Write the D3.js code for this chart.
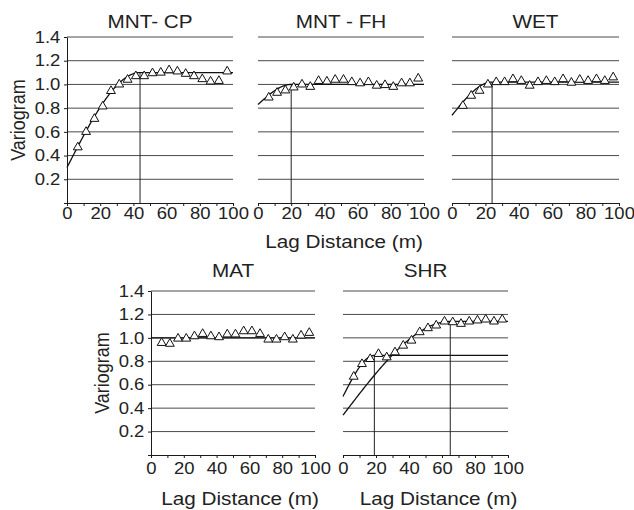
<!DOCTYPE html>
<html lang="en">
	<head>
		<meta charset="utf-8">
		<title>Variograms</title>
		<script src="https://d3js.org/d3.v7.min.js"></script>
		<style type="text/css">
body { margin: 0; background: #fff; }
text { font-family: "Liberation Sans", Arial, Helvetica, sans-serif; fill: #222; }
.tick line { stroke: #1a1a1a; }
.domain { stroke: #1a1a1a; }
		</style>
	</head>
	<body>
		<script type="text/javascript">

			// lag distances (m) of the empirical points
			var lags = [6.5, 11.5, 16.5, 21.5, 26.5, 31.5, 36.5, 41.5, 46.5, 51.5,
			            56.5, 61.5, 66.5, 71.5, 76.5, 81.5, 86.5, 91.5, 96.5];

			var cpVals  = [0.47, 0.60, 0.71, 0.815, 0.945, 1.00, 1.04, 1.07, 1.07, 1.095,
			               1.10, 1.12, 1.11, 1.09, 1.07, 1.045, 1.025, 1.03, 1.11];
			var fhVals  = [0.89, 0.93, 0.95, 0.975, 1.00, 0.98, 1.03, 1.025, 1.04, 1.04,
			               1.02, 1.01, 1.02, 0.99, 0.995, 0.98, 1.01, 1.01, 1.05];
			var wetVals = [0.82, 0.905, 0.947, 1.00, 1.02, 1.02, 1.045, 1.03, 0.99, 1.02,
			               1.03, 1.02, 1.045, 1.015, 1.04, 1.03, 1.045, 1.03, 1.06];
			var matVals = [0.957, 0.95, 0.994, 0.994, 1.014, 1.034, 1.014, 1.006, 1.03, 1.03,
			               1.057, 1.057, 1.034, 0.986, 0.986, 1.006, 0.986, 1.02, 1.043];
			var shrVals = [0.669, 0.777, 0.82, 0.863, 0.834, 0.877, 0.934, 0.977, 1.049, 1.083,
			               1.106, 1.14, 1.134, 1.12, 1.14, 1.149, 1.157, 1.14, 1.157];

			// fitted spherical models: [nugget, sill, range]
			var cpModels  = [[0.30, 1.10, 44]];
			var fhModels  = [[0.83, 1.00, 20]];
			var wetModels = [[0.74, 1.02, 24]];
			var matModels = [[1.00, 1.00, 0]];
			var shrModels = [[0.50, 0.85, 19], [0.34, 1.14, 65]];

			// axis ticks
			var xTicks = [0, 10, 20, 30, 40, 50, 60, 70, 80, 90, 100];
			var xLabels = [0, 20, 40, 60, 80, 100];
			var yTicks = [0, 0.2, 0.4, 0.6, 0.8, 1.0, 1.2, 1.4];
			var gridVals = [0.2, 0.4, 0.6, 0.8, 1.0, 1.2, 1.4];

			var w = 634;
			var h = 510;

			// the source figure is a little stretched sideways, so is its text
			var stretch = 1.12;

			// layout of the two rows
			var rows = [
				{ top: 37, bottom: 203, titleY: 28, tickPad: 1, lagY: 248 },
				{ top: 291, bottom: 455, titleY: 277, tickPad: 4, lagY: 505 }
			];

			var panels = [
				{ name: "MNT- CP", vals: cpVals,  models: cpModels,  row: 0, left: 67,  right: 233, yAxis: true,  lag: null },
				{ name: "MNT - FH", vals: fhVals, models: fhModels,  row: 0, left: 258, right: 424, yAxis: false, lag: 3 },
				{ name: "WET",     vals: wetVals, models: wetModels, row: 0, left: 452, right: 619, yAxis: false, lag: null },
				{ name: "MAT",     vals: matVals, models: matModels, row: 1, left: 151, right: 315, yAxis: true,  lag: 7 },
				{ name: "SHR",     vals: shrVals, models: shrModels, row: 1, left: 343, right: 508, yAxis: false, lag: 13 }
			];

			// spherical variogram model
			function spherical(m, d) {
				var c0 = m[0], s = m[1], a = m[2];
				if (a <= 0 || d >= a) return s;
				var r = d / a;
				return c0 + (s - c0) * (1.5 * r - 0.5 * r * r * r);
			}

			var svg = d3.select("body")
						.append("svg")
						.attr("width", w)
						.attr("height", h);

			svg.append("rect")
				.attr("width", w)
				.attr("height", h)
				.attr("fill", "#fff");

			var tri = d3.symbol().type(d3.symbolTriangle).size(34);

			panels.forEach(function(p) {

				var row = rows[p.row];

				var x = d3.scaleLinear()
					.domain([0, 100])
					.range([p.left, p.right]);

				var y = d3.scaleLinear()
					.domain([0, 1.4])
					.range([row.bottom, row.top]);

				var g = svg.append("g");

				// horizontal grid lines
				g.selectAll(".grid")
					.data(gridVals)
					.enter()
					.append("line")
					.attr("class", "grid")
					.attr("x1", x(0))
					.attr("x2", x(100))
					.attr("y1", function(d) { return y(d); })
					.attr("y2", function(d) { return y(d); })
					.attr("stroke", "#4a4a4a")
					.attr("stroke-width", 1);

				// x axis
				var xAxis = d3.axisBottom(x)
					.tickValues(xTicks)
					.tickSize(3)
					.tickSizeOuter(0)
					.tickPadding(row.tickPad)
					.tickFormat(function(d) { return xLabels.indexOf(d) >= 0 ? d : ""; });

				g.append("g")
					.attr("transform", "translate(0," + y(0) + ")")
					.call(xAxis)
					.call(function(a) {
						a.selectAll("text")
							.attr("font-size", "16.5px")
							.attr("transform", "scale(" + stretch + ",1)");
					});

				// y axis on the left panels only
				if (p.yAxis) {
					var yAxis = d3.axisLeft(y)
						.tickValues(yTicks)
						.tickSize(3)
						.tickSizeOuter(0)
						.tickFormat(function(d) { return d === 0 ? "" : d3.format(".1f")(d); });

					g.append("g")
						.attr("transform", "translate(" + x(0) + ",0)")
						.call(yAxis)
						.call(function(a) {
							a.selectAll("text")
								.attr("font-size", "16.5px")
								.attr("transform", "scale(" + stretch + ",1)");
						});

					g.append("text")
						.attr("transform", "translate(" + (x(0) - 49) + "," + ((row.top + row.bottom) / 2) + ") rotate(-90) scale(1," + stretch + ")")
						.attr("text-anchor", "middle")
						.attr("dy", "0.35em")
						.attr("font-size", "18px")
						.text("Variogram");
				}

				// range markers
				p.models.forEach(function(m) {
					if (m[2] <= 0) return;
					g.append("line")
						.attr("x1", x(m[2]))
						.attr("x2", x(m[2]))
						.attr("y1", y(0))
						.attr("y2", y(m[1]))
						.attr("stroke", "#222")
						.attr("stroke-width", 1);
				});

				// model curves
				var line = d3.line()
					.x(function(d) { return x(d[0]); })
					.y(function(d) { return y(d[1]); });

				p.models.forEach(function(m) {
					var pts = d3.range(0, 100.01, 0.5).map(function(d) { return [d, spherical(m, d)]; });
					g.append("path")
						.attr("d", line(pts))
						.attr("fill", "none")
						.attr("stroke", "#111")
						.attr("stroke-width", 1.3);
				});

				// empirical points
				g.selectAll(".pt")
					.data(p.vals)
					.enter()
					.append("path")
					.attr("class", "pt")
					.attr("d", tri)
					.attr("transform", function(d, i) { return "translate(" + x(lags[i]) + "," + y(d) + ")"; })
					.attr("fill", "#fff")
					.attr("stroke", "#111")
					.attr("stroke-width", 1);

				// panel title
				g.append("text")
					.attr("transform", "translate(" + ((p.left + p.right) / 2) + "," + row.titleY + ") scale(" + stretch + ",1)")
					.attr("text-anchor", "middle")
					.attr("font-size", "18.5px")
					.text(p.name);

				// x axis title
				if (p.lag !== null) {
					g.append("text")
						.attr("transform", "translate(" + ((p.left + p.right) / 2 + p.lag) + "," + row.lagY + ") scale(" + stretch + ",1)")
						.attr("text-anchor", "middle")
						.attr("font-size", "18.5px")
						.text("Lag Distance (m)");
				}
			});

		</script>
	</body>
</html>
